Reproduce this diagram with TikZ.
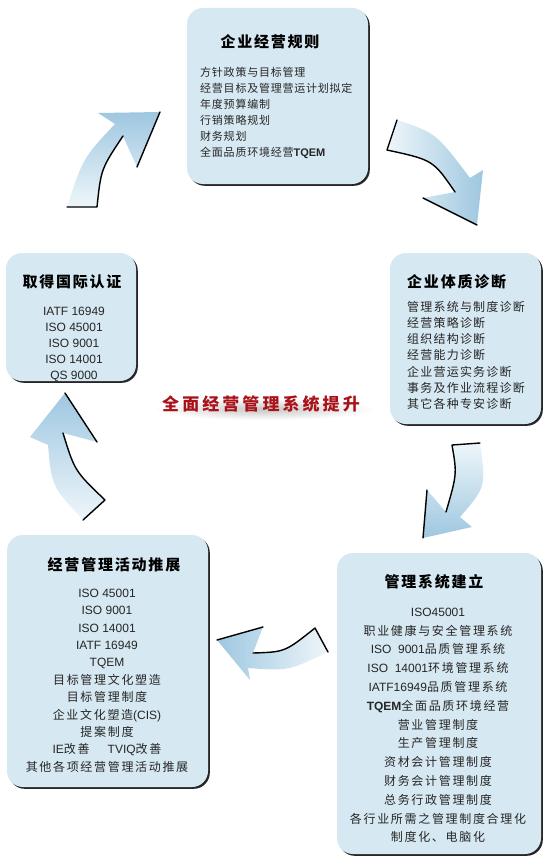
\documentclass[tikz,border=0pt]{standalone}
\usepackage{fontspec}
\setmainfont{Noto Sans CJK SC}
\newfontfamily\latinfont{Liberation Sans}
\usetikzlibrary{shadows}
\definecolor{panelblue}{RGB}{214,232,241}
\definecolor{arrowdeep}{RGB}{158,199,224}
\definecolor{arrowpale}{RGB}{238,246,250}
\definecolor{sloganred}{RGB}{170,18,26}
\newcommand{\lat}[1]{{\latinfont #1}}

\begin{document}
\begin{tikzpicture}[x=1pt,y=-1pt]
\tikzset{
  panel/.style={rectangle,rounded corners=16pt,fill=panelblue,inner sep=0pt,
    drop shadow={shadow xshift=1.8pt,shadow yshift=-1.8pt,fill=black!85,opacity=1}},
  paneltitle/.style={inner sep=0pt,text=black,
    font=\fontsize{15}{18}\selectfont\bfseries\addfontfeatures{LetterSpace=12}},
  panelbody/.style={inner sep=0pt,text=black!85},
  slogantext/.style={inner sep=0pt,
    font=\fontsize{17}{20}\selectfont\bfseries\addfontfeatures{LetterSpace=18}},
  arrowrim/.style={draw=black,line width=1.4pt,line cap=round,line join=round}
}
\useasboundingbox (0,0) rectangle (554,867);

% panels
\node[panel,minimum width=181pt,minimum height=176pt] (plan) at (277.5,96) {};
\node[panel,minimum width=151pt,minimum height=171pt] (diag) at (465.5,338.5) {};
\node[panel,minimum width=130pt,minimum height=128pt] (cert) at (71,317) {};
\node[panel,minimum width=201pt,minimum height=252pt] (promo) at (107.5,661) {};
\node[panel,minimum width=204pt,minimum height=301pt] (build) at (439,703.5) {};

% titles
\node[paneltitle] (plan_t) at (270,42) {企业经营规则};
\node[paneltitle,anchor=west] (diag_t) at (407,282) {企业体质诊断};
\node[paneltitle] (cert_t) at (72,282) {取得国际认证};
\node[paneltitle] (promo_t) at (114,565) {经营管理活动推展};
\node[paneltitle] (build_t) at (434,582) {管理系统建立};

% panel texts
\node[panelbody,anchor=north west,align=left,
  font=\fontsize{11}{16}\selectfont\addfontfeatures{LetterSpace=7}] (plan_b) at (200,66.5)
  {方针政策与目标管理\\经营目标及管理营运计划拟定\\年度预算编制\\行销策略规划\\财务规划\\全面品质环境经营\lat{\bfseries TQEM}};
\node[panelbody,anchor=north west,align=left,
  font=\fontsize{12}{16.2}\selectfont\addfontfeatures{LetterSpace=10}] (diag_b) at (407,301)
  {管理系统与制度诊断\\经营策略诊断\\组织结构诊断\\经营能力诊断\\企业营运实务诊断\\事务及作业流程诊断\\其它各种专安诊断};
\node[panelbody,anchor=north,align=center,
  font=\fontsize{12}{16}\selectfont\latinfont] (cert_b) at (74,307)
  {IATF 16949\\ISO 45001\\ISO 9001\\ISO 14001\\QS 9000};
\node[panelbody,anchor=north,align=center,
  font=\fontsize{12}{17.4}\selectfont\addfontfeatures{LetterSpace=14}] (promo_b) at (107,588.7)
  {\lat{ISO 45001}\\\lat{ISO 9001}\\\lat{ISO 14001}\\\lat{IATF 16949}\\\lat{TQEM}\\目标管理文化塑造\\目标管理制度\\企业文化塑造\lat{(CIS)}\\提案制度\\\lat{IE}改善\hspace{18pt}\lat{TVIQ}改善\\其他各项经营管理活动推展};
\node[panelbody,anchor=north,align=center,
  font=\fontsize{12}{18.8}\selectfont\addfontfeatures{LetterSpace=14}] (build_b) at (438,607.7)
  {\lat{ISO45001}\\职业健康与安全管理系统\\\lat{ISO\ \ 9001}品质管理系统\\\lat{ISO\ \ 14001}环境管理系统\\\lat{IATF16949}品质管理系统\\\lat{\bfseries TQEM}全面品质环境经营\\营业管理制度\\生产管理制度\\资材会计管理制度\\财务会计管理制度\\总务行政管理制度\\各行业所需之管理制度合理化\\制度化、电脑化};

% centre slogan, soft grey glow under it
\shade[inner color=black!22,outer color=white] (264,409) ellipse [x radius=110, y radius=11];
\node[slogantext,text=sloganred] (slogan) at (261,404) {全面经营管理系统提升};

% curved arrows
\shade[top color=arrowdeep,bottom color=arrowpale]
  (67,207) .. controls (83,158) .. (115,124) -- (98,113) -- (160,112) -- (137,167)
  -- (123,136) .. controls (101,169) .. (97,207) -- cycle;
\draw[arrowrim] (137,167) -- (160,112);
\draw[arrowrim] (123,136) .. controls (101,169) .. (97,207) -- (67,207);

\shade[left color=arrowpale,right color=arrowdeep]
  (397,120) .. controls (436,133) .. (470,178) -- (483,170) -- (477,225) -- (423,198)
  -- (455,192) .. controls (433,160) .. (387,150) -- cycle;
\draw[arrowrim] (423,198) -- (477,225);
\draw[arrowrim] (455,192) .. controls (433,160) .. (387,150) -- (397,120);

\shade[top color=arrowpale,bottom color=arrowdeep]
  (480,443) .. controls (486,487) .. (460,517) -- (472,527) -- (423,538) -- (427,490)
  -- (446,512) .. controls (457,474) .. (452,445) -- cycle;
\draw[arrowrim] (427,490) -- (423,538);
\draw[arrowrim] (446,512) .. controls (457,474) .. (452,445) -- (480,443);

\shade[left color=arrowdeep,right color=arrowpale]
  (328,652) .. controls (288,671) .. (248,668) -- (250,680) -- (217,640) -- (263,627)
  -- (253,653) .. controls (285,652) .. (315,628) -- cycle;
\draw[arrowrim] (263,627) -- (217,640);
\draw[arrowrim] (253,653) .. controls (285,652) .. (315,628) -- (328,652);

\shade[top color=arrowdeep,bottom color=arrowpale]
  (83,520) .. controls (51.5,486) .. (48,445) -- (30,437) -- (65,393) -- (97,442)
  -- (63,433) .. controls (74.7,471) .. (105,500) -- cycle;
\draw[arrowrim] (97,442) -- (65,393);
\draw[arrowrim] (63,433) .. controls (74.7,471) .. (105,500) -- (83,520);
\end{tikzpicture}
\end{document}
